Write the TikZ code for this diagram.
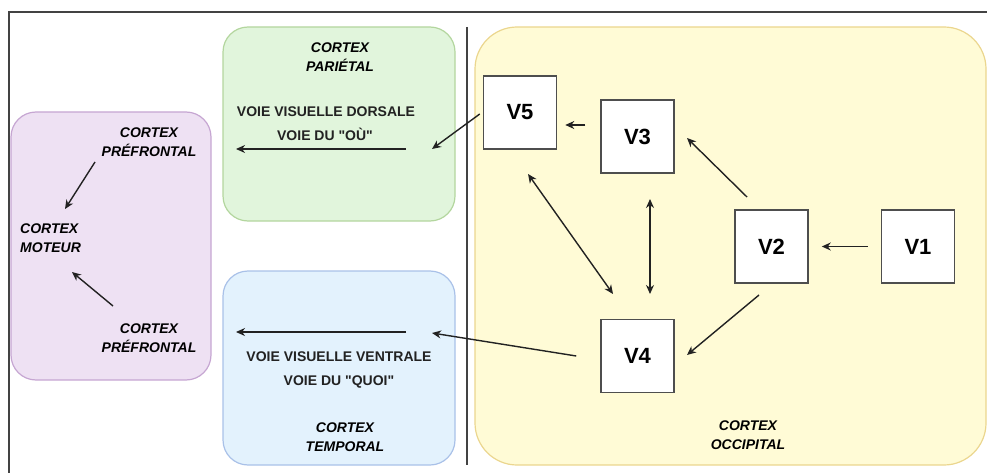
\documentclass[tikz,border=0pt]{standalone}
\usepackage{fontspec}
\setmainfont{Liberation Sans}
\usetikzlibrary{arrows.meta}
\definecolor{gfill}{HTML}{E1F5DC}\definecolor{gdraw}{HTML}{B3D69E}
\definecolor{pfill}{HTML}{EEE1F3}\definecolor{pdraw}{HTML}{C6A6D2}
\definecolor{bfill}{HTML}{E3F2FD}\definecolor{bdraw}{HTML}{A9C1E8}
\definecolor{yfill}{HTML}{FFFBD6}\definecolor{ydraw}{HTML}{EBD68E}
\definecolor{ink}{HTML}{222222}
\tikzset{
  region/.style={line width=1.2pt},
  vbox/.style={draw=ink!80, fill=white, line width=1.5pt, minimum width=73pt, minimum height=73pt, inner sep=0pt, font=\fontsize{22}{24}\selectfont\bfseries},
  lbl/.style={font=\fontsize{14}{19}\selectfont\bfseries\itshape, align=center, inner sep=0pt},
  lbll/.style={font=\fontsize{14}{19}\selectfont\bfseries\itshape, align=left, inner sep=0pt},
  txt/.style={font=\fontsize{14}{18}\selectfont\bfseries, inner sep=0pt, text=ink},
  arr/.style={-{Stealth[length=9pt,width=8pt]}, line width=1.4pt, draw=ink},
  darr/.style={{Stealth[length=9pt,width=8pt]}-{Stealth[length=9pt,width=8pt]}, line width=1.4pt, draw=ink},
}
\begin{document}
\begin{tikzpicture}[x=1pt,y=-1pt]
\useasboundingbox (0,0) rectangle (987,473);
\clip (0,0) rectangle (987,473);
% outer frame
\draw[line width=1.4pt, draw=ink!85] (9,12) rectangle (995,480);
% regions
\draw[region, fill=gfill, draw=gdraw, rounded corners=25pt] (223,27) rectangle (455,221);
\draw[region, fill=pfill, draw=pdraw, rounded corners=25pt] (11,112) rectangle (211,380);
\draw[region, fill=bfill, draw=bdraw, rounded corners=25pt] (223,271) rectangle (455,465);
\draw[region, fill=yfill, draw=ydraw, rounded corners=42pt] (475,27) rectangle (986,465);
% divider
\draw[line width=1.4pt, draw=ink!85] (467,27) -- (467,465);
% V boxes
\node[vbox] (V5) at (520,112.5) {V5};
\node[vbox] (V3) at (637.5,136.5) {V3};
\node[vbox] (V2) at (771.5,246.5) {V2};
\node[vbox] (V1) at (918,246.5) {V1};
\node[vbox] (V4) at (637.5,356) {V4};
% labels
\node[lbl] (par) at (340,57) {CORTEX\\PARIÉTAL};
\node[txt] (dors) at (326,112) {VOIE VISUELLE DORSALE};
\node[txt] (ou) at (325,134) {VOIE DU \textquotedbl OÙ\textquotedbl};
\node[lbl] (pf1) at (149,142.5) {CORTEX\\PRÉFRONTAL};
\node[lbll, anchor=west] (mot) at (20,238) {CORTEX\\MOTEUR};
\node[lbl] (pf2) at (149,338) {CORTEX\\PRÉFRONTAL};
\node[txt] (vent) at (339,357) {VOIE VISUELLE VENTRALE};
\node[txt] (quoi) at (339,382) {VOIE DU \textquotedbl QUOI\textquotedbl};
\node[lbl] (temp) at (345,437) {CORTEX\\TEMPORAL};
\node[lbl] (occ) at (748,435.5) {CORTEX\\OCCIPITAL};
% connector endpoints
\coordinate (d1) at (406,149); \coordinate (d2) at (236,149);
\coordinate (v1) at (406,332); \coordinate (v2) at (236,332);
\coordinate (din) at (432,149); \coordinate (vin) at (432,333);
\coordinate (p1a) at (95,162); \coordinate (p1b) at (65,209);
\coordinate (p2a) at (113,306); \coordinate (p2b) at (72,272);
% arrows
\draw[arr] ([xshift=-13pt]V1.west) -- ([xshift=13pt]V2.west -| V2.east);
\draw[arr] (747,197) -- (687,138);
\draw[arr] (759,295) -- (687,355);
\draw[arr] ([xshift=-15pt]V3.west |- 0,125) -- ([xshift=8pt]V5.east |- 0,125);
\draw[darr] (650,199) -- (650,294);
\draw[darr] (528,174) -- (613,294);
\draw[arr] ([xshift=-3pt]V5.west |- 0,114) -- (din);
\draw[arr] ([xshift=-24pt]V4.west) -- (vin);
\draw[arr] (d1) -- (d2);
\draw[arr] (v1) -- (v2);
\draw[arr] (p1a) -- (p1b);
\draw[arr] (p2a) -- (p2b);
\end{tikzpicture}
\end{document}
